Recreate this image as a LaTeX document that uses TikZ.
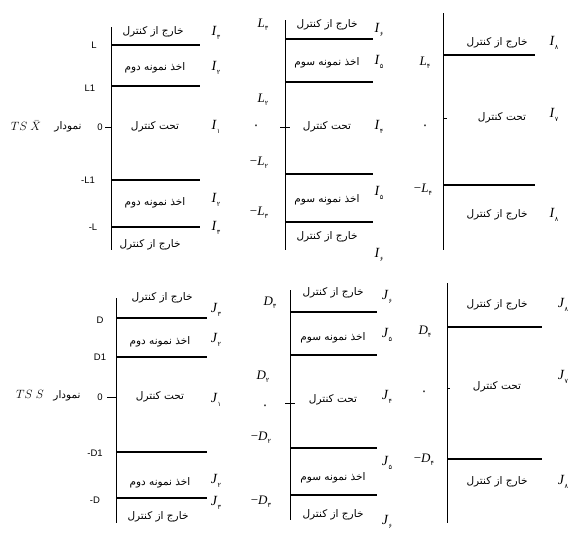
\documentclass[tikz,border=0pt]{standalone}
\usepackage{fontspec}
\setmainfont{Liberation Serif}
\newfontfamily\farsi[Script=Arabic]{DejaVu Sans}
\newfontfamily\hv{Liberation Sans}
\TeXXeTstate=1
\newcommand{\fatext}[1]{{\farsi\beginR #1\endR}}
\newcommand{\idx}[2]{\textit{#1}\raisebox{-0.5ex}{\farsi\fontsize{6.5}{6.5}\selectfont #2}}

\begin{document}
\begin{tikzpicture}[
  x=1pt, y=-1pt,
  fatxt/.style={font=\fontsize{10.5}{11}\selectfont, inner sep=0pt},
  idxlab/.style={font=\fontsize{14}{14}\selectfont, inner sep=0pt},
  serlab/.style={font=\fontsize{13}{13}\selectfont, inner sep=0pt},
  axlab/.style={font=\fontsize{9.5}{9.5}\selectfont\hv, inner sep=0pt},
  title/.style={font=\fontsize{13}{13}\selectfont, inner sep=0pt},
  vaxis/.style={line width=1pt},
  band/.style={line width=1.3pt},
  tickmark/.style={line width=0.8pt}
]
\useasboundingbox[fill=white] (0,0) rectangle (587,536);

% ==================== TOP LEFT: second sample ====================
\node[title] (tl_title) at (26,126) {$TS~\bar{X}$};
\node[fatxt] (tl_word) at (68,127) {\fatext{نمودار}};
\draw[vaxis] (111,27) -- (111,250);
\draw[band] (111,45) -- (200,45);
\draw[band] (111,86) -- (200,86);
\draw[band] (111,180) -- (200,180);
\draw[band] (111,227) -- (200,227);
\draw[tickmark] (105,127) -- (111,127);

\node[axlab] (tl_l1) at (94,45) {L};
\node[axlab] (tl_l2) at (90,88) {L1};
\node[axlab] (tl_l3) at (100,127) {0};
\node[axlab] (tl_l4) at (88,180) {-L1};
\node[axlab] (tl_l5) at (93,227) {-L};

\node[fatxt] (tl_t1) at (153,32) {\fatext{خارج از کنترل}};
\node[fatxt] (tl_t2) at (155,68) {\fatext{اخذ نمونه دوم}};
\node[fatxt] (tl_t3) at (155,127) {\fatext{تحت کنترل}};
\node[fatxt] (tl_t4) at (155,203) {\fatext{اخذ نمونه دوم}};
\node[fatxt] (tl_t5) at (150,245) {\fatext{خارج از کنترل}};

\node[idxlab] (tl_i1) at (216,33) {\idx{I}{۳}};
\node[idxlab] (tl_i2) at (216,68) {\idx{I}{۲}};
\node[idxlab] (tl_i3) at (216,127) {\idx{I}{۱}};
\node[idxlab] (tl_i4) at (216,200) {\idx{I}{۲}};
\node[idxlab] (tl_i5) at (216,228) {\idx{I}{۳}};

% ==================== TOP MIDDLE: third sample ====================
\draw[vaxis] (285,20) -- (285,250);
\draw[band] (285,39) -- (373,39);
\draw[band] (285,82) -- (373,82);
\draw[band] (285,174) -- (373,174);
\draw[band] (285,222) -- (373,222);
\draw[tickmark] (280,127) -- (290,127);

\node[serlab] (tm_l1) at (263,25) {\idx{L}{۳}};
\node[serlab] (tm_l2) at (263,100) {\idx{L}{۲}};
\node[serlab] (tm_l3) at (256,127) {\fatext{۰}};
\node[serlab] (tm_l4) at (259,163) {−\idx{L}{۲}};
\node[serlab] (tm_l5) at (259,213) {−\idx{L}{۳}};

\node[fatxt] (tm_t1) at (327,25) {\fatext{خارج از کنترل}};
\node[fatxt] (tm_t2) at (327,63) {\fatext{اخذ نمونه سوم}};
\node[fatxt] (tm_t3) at (327,127) {\fatext{تحت کنترل}};
\node[fatxt] (tm_t4) at (327,200) {\fatext{اخذ نمونه سوم}};
\node[fatxt] (tm_t5) at (327,237) {\fatext{خارج از کنترل}};

\node[idxlab] (tm_i1) at (379,30) {\idx{I}{۶}};
\node[idxlab] (tm_i2) at (379,62) {\idx{I}{۵}};
\node[idxlab] (tm_i3) at (379,127) {\idx{I}{۴}};
\node[idxlab] (tm_i4) at (379,193) {\idx{I}{۵}};
\node[idxlab] (tm_i5) at (379,255) {\idx{I}{۶}};

% ==================== TOP RIGHT ====================
\draw[vaxis] (443,13) -- (443,250);
\draw[band] (443,55) -- (535,55);
\draw[band] (443,185) -- (535,185);
\draw[tickmark] (443,118) -- (447,118);

\node[serlab] (tr_l1) at (425,63) {\idx{L}{۴}};
\node[serlab] (tr_l2) at (425,127) {\fatext{۰}};
\node[serlab] (tr_l3) at (423,190) {−\idx{L}{۴}};

\node[fatxt] (tr_t1) at (497,43) {\fatext{خارج از کنترل}};
\node[fatxt] (tr_t2) at (502,118) {\fatext{تحت کنترل}};
\node[fatxt] (tr_t3) at (497,215) {\fatext{خارج از کنترل}};

\node[idxlab] (tr_i1) at (554,43) {\idx{I}{۸}};
\node[idxlab] (tr_i2) at (554,115) {\idx{I}{۷}};
\node[idxlab] (tr_i3) at (554,215) {\idx{I}{۸}};

% ==================== BOTTOM LEFT: second sample ====================
\node[title] (bl_title) at (30,394) {$TS~S$};
\node[fatxt] (bl_word) at (67,396) {\fatext{نمودار}};
\draw[vaxis] (116,298) -- (116,523);
\draw[band] (116,318) -- (207,318);
\draw[band] (116,357) -- (207,357);
\draw[band] (116,452) -- (207,452);
\draw[band] (116,498) -- (207,498);
\draw[tickmark] (107,397) -- (116,397);

\node[axlab] (bl_l1) at (100,320) {D};
\node[axlab] (bl_l2) at (100,357) {D1};
\node[axlab] (bl_l3) at (100,397) {0};
\node[axlab] (bl_l4) at (95,453) {-D1};
\node[axlab] (bl_l5) at (95,500) {-D};

\node[fatxt] (bl_t1) at (162,298) {\fatext{خارج از کنترل}};
\node[fatxt] (bl_t2) at (160,342) {\fatext{اخذ نمونه دوم}};
\node[fatxt] (bl_t3) at (160,397) {\fatext{تحت کنترل}};
\node[fatxt] (bl_t4) at (160,483) {\fatext{اخذ نمونه دوم}};
\node[fatxt] (bl_t5) at (158,517) {\fatext{خارج از کنترل}};

\node[idxlab] (bl_j1) at (216,310) {\idx{J}{۳}};
\node[idxlab] (bl_j2) at (216,340) {\idx{J}{۲}};
\node[idxlab] (bl_j3) at (216,400) {\idx{J}{۱}};
\node[idxlab] (bl_j4) at (216,481) {\idx{J}{۲}};
\node[idxlab] (bl_j5) at (216,503) {\idx{J}{۳}};

% ==================== BOTTOM MIDDLE: third sample ====================
\draw[vaxis] (290,290) -- (290,520);
\draw[band] (290,312) -- (377,312);
\draw[band] (290,355) -- (377,355);
\draw[band] (290,448) -- (377,448);
\draw[band] (290,495) -- (377,495);
\draw[tickmark] (285,403) -- (295,403);

\node[serlab] (bm_l1) at (270,303) {\idx{D}{۳}};
\node[serlab] (bm_l2) at (263,377) {\idx{D}{۲}};
\node[serlab] (bm_l3) at (265,407) {\fatext{۰}};
\node[serlab] (bm_l4) at (261,438) {−\idx{D}{۲}};
\node[serlab] (bm_l5) at (261,502) {−\idx{D}{۳}};

\node[fatxt] (bm_t1) at (333,293) {\fatext{خارج از کنترل}};
\node[fatxt] (bm_t2) at (333,338) {\fatext{اخذ نمونه سوم}};
\node[fatxt] (bm_t3) at (333,400) {\fatext{تحت کنترل}};
\node[fatxt] (bm_t4) at (333,478) {\fatext{اخذ نمونه سوم}};
\node[fatxt] (bm_t5) at (333,515) {\fatext{خارج از کنترل}};

\node[idxlab] (bm_j1) at (387,297) {\idx{J}{۶}};
\node[idxlab] (bm_j2) at (387,335) {\idx{J}{۵}};
\node[idxlab] (bm_j3) at (387,397) {\idx{J}{۴}};
\node[idxlab] (bm_j4) at (387,463) {\idx{J}{۵}};
\node[idxlab] (bm_j5) at (387,522) {\idx{J}{۶}};

% ==================== BOTTOM RIGHT ====================
\draw[vaxis] (447,283) -- (447,523);
\draw[band] (447,327) -- (542,327);
\draw[band] (447,459) -- (542,459);
\draw[tickmark] (447,388) -- (450,388);

\node[serlab] (br_l1) at (425,332) {\idx{D}{۴}};
\node[serlab] (br_l2) at (424,393) {\fatext{۰}};
\node[serlab] (br_l3) at (424,460) {−\idx{D}{۴}};

\node[fatxt] (br_t1) at (497,305) {\fatext{خارج از کنترل}};
\node[fatxt] (br_t2) at (497,387) {\fatext{تحت کنترل}};
\node[fatxt] (br_t3) at (497,482) {\fatext{خارج از کنترل}};

\node[idxlab] (br_j1) at (563,305) {\idx{J}{۸}};
\node[idxlab] (br_j2) at (563,377) {\idx{J}{۷}};
\node[idxlab] (br_j3) at (563,482) {\idx{J}{۸}};

\end{tikzpicture}
\end{document}
